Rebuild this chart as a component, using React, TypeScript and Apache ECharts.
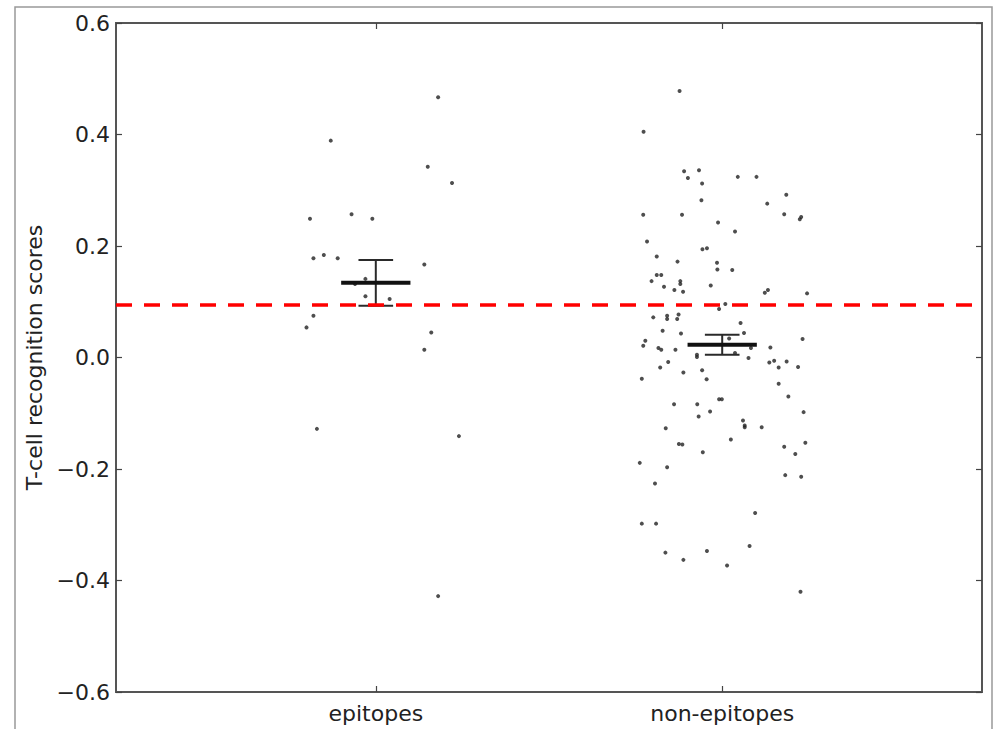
import React, { useEffect, useRef } from "react";
import * as echarts from "echarts";

// Category positions and names
const categories = ["epitopes", "non-epitopes"];
const categoryPos = [1, 2];

// Y-axis ticks
const yTicks = [-0.6, -0.4, -0.2, 0.0, 0.2, 0.4, 0.6];

// Epitopes: jittered x positions and scores
const epitopeX = [1.18, 0.87, 1.15, 1.22, 0.81, 0.93, 0.99, 0.82, 0.85, 0.89, 1.14, 0.97, 0.94, 0.97, 1.04, 0.82, 0.80, 1.16, 1.14, 0.83, 1.24, 1.18];
const epitopeY = [0.467, 0.389, 0.342, 0.313, 0.249, 0.257, 0.249, 0.178, 0.184, 0.178, 0.167, 0.141, 0.132, 0.110, 0.105, 0.075, 0.054, 0.045, 0.014, -0.128, -0.141, -0.428];

// Non-epitopes: jittered x positions and scores
const nonEpitopeX = [
  1.877, 1.773, 1.89, 1.933, 1.901, 1.942, 2.045, 2.099, 2.185, 1.94, 2.13, 1.772, 1.884, 2.179, 2.224, 2.228,
  1.988, 2.037, 1.783, 1.943, 1.956, 1.811, 1.871, 1.985, 1.986, 2.029, 1.811, 1.824, 1.796, 1.879, 1.879, 1.967,
  1.832, 1.862, 1.887, 2.123, 2.132, 2.245, 2.009, 1.991, 1.801, 1.841, 1.841, 1.874, 1.870, 2.053, 1.828, 1.881,
  2.063, 2.020, 2.232, 1.778, 1.772, 1.816, 1.824, 1.865, 2.083, 2.139, 1.927, 1.927, 2.037, 2.076, 1.844, 2.136,
  2.150, 2.186, 1.821, 2.163, 2.219, 1.888, 1.942, 1.768, 1.955, 2.163, 2.191, 1.991, 1.999, 1.861, 1.928, 2.235,
  1.965, 1.932, 1.837, 2.060, 2.065, 2.065, 2.114, 2.025, 1.875, 1.885, 2.240, 2.179, 1.944, 2.211, 1.762, 1.841,
  2.182, 2.228, 1.806, 2.095, 1.768, 1.809, 2.079, 1.836, 1.956, 1.888, 2.014, 2.226,
];
const nonEpitopeY = [
  0.478, 0.405, 0.334, 0.336, 0.322, 0.312, 0.324, 0.324, 0.292, 0.282, 0.276, 0.256, 0.256, 0.257, 0.248, 0.252,
  0.242, 0.226, 0.208, 0.194, 0.196, 0.181, 0.172, 0.170, 0.158, 0.157, 0.148, 0.148, 0.137, 0.137, 0.132, 0.129,
  0.127, 0.121, 0.118, 0.116, 0.121, 0.115, 0.096, 0.087, 0.072, 0.075, 0.069, 0.077, 0.069, 0.062, 0.048, 0.043,
  0.044, 0.034, 0.033, 0.030, 0.021, 0.017, 0.014, 0.014, 0.017, 0.018, 0.005, 0.001, 0.008, -0.001, -0.008, -0.009,
  -0.006, -0.007, -0.018, -0.018, -0.017, -0.027, -0.023, -0.038, -0.039, -0.047, -0.070, -0.075, -0.075, -0.084, -0.084, -0.098,
  -0.097, -0.106, -0.127, -0.113, -0.122, -0.125, -0.125, -0.147, -0.155, -0.156, -0.153, -0.160, -0.170, -0.173, -0.189, -0.197,
  -0.211, -0.214, -0.226, -0.279, -0.298, -0.298, -0.338, -0.350, -0.347, -0.363, -0.373, -0.420,
];

// Group means and error bar bounds
const groupMeans = [0.134, 0.023];
const groupErrLow = [0.093, 0.005];
const groupErrHigh = [0.175, 0.041];

// Threshold (red dashed line)
const threshold = 0.095;

const FONT = "DejaVu Sans";

function fmtY(v: number): string {
  if (Math.abs(v) < 1e-9) return "0.0";
  const s = v.toFixed(1);
  return s.replace("-", "\u2212");
}

export default function App() {
  const ref = useRef<HTMLDivElement>(null);

  useEffect(() => {
    if (!ref.current) return;
    const chart = echarts.init(ref.current, null, { renderer: "svg" });

    const zip = (xs: number[], ys: number[]) => xs.map((x, i) => [x, ys[i]]);
    const barData = categoryPos.map((p, i) => [p, groupMeans[i], groupErrLow[i], groupErrHigh[i]]);

    const tickStyle = { inside: true, length: 6, lineStyle: { color: "#444", width: 1.2 } };

    chart.setOption({
      animation: false,
      backgroundColor: "#fff",
      grid: {
        left: 116,
        right: 14,
        top: 23,
        bottom: 37,
        show: true,
        borderColor: "#555",
        borderWidth: 2,
        backgroundColor: "transparent",
      },
      graphic: [
        {
          type: "rect",
          shape: { x: 15, y: 7, width: 977, height: 760 },
          style: { fill: "none", stroke: "#999", lineWidth: 1.5 },
          silent: true,
        },
      ],
      xAxis: [
        {
          type: "value",
          min: 0.25,
          max: 2.75,
          position: "bottom",
          splitLine: { show: false },
          axisLine: { show: false, onZero: false },
          axisTick: { ...tickStyle, customValues: categoryPos },
          axisLabel: {
            customValues: categoryPos,
            formatter: (v: number) => {
              const i = categoryPos.indexOf(Math.round(v));
              return i >= 0 ? categories[i] : "";
            },
            fontFamily: FONT,
            fontSize: 22,
            color: "#222",
            margin: 10,
          },
        },
        {
          type: "value",
          min: 0.25,
          max: 2.75,
          position: "top",
          splitLine: { show: false },
          axisLine: { show: false, onZero: false },
          axisTick: { ...tickStyle, customValues: categoryPos },
          axisLabel: { show: false },
        },
      ],
      yAxis: [
        {
          type: "value",
          min: -0.6,
          max: 0.6,
          interval: 0.2,
          position: "left",
          splitLine: { show: false },
          axisLine: { show: false, onZero: false },
          axisTick: { ...tickStyle, customValues: yTicks },
          axisLabel: {
            customValues: yTicks,
            formatter: (v: number) => fmtY(v),
            fontFamily: FONT,
            fontSize: 22,
            color: "#222",
            margin: 6,
          },
          name: "T-cell recognition scores",
          nameLocation: "middle",
          nameGap: 69,
          nameTextStyle: { fontFamily: FONT, fontSize: 22, color: "#222" },
        },
        {
          type: "value",
          min: -0.6,
          max: 0.6,
          interval: 0.2,
          position: "right",
          splitLine: { show: false },
          axisLine: { show: false, onZero: false },
          axisTick: { ...tickStyle, customValues: yTicks },
          axisLabel: { show: false },
        },
      ],
      series: [
        {
          type: "scatter",
          name: "epitopes",
          data: zip(epitopeX, epitopeY),
          symbol: "circle",
          symbolSize: 4,
          itemStyle: { color: "#222" },
          z: 3,
        },
        {
          type: "scatter",
          name: "non-epitopes",
          data: zip(nonEpitopeX, nonEpitopeY),
          symbol: "circle",
          symbolSize: 4,
          itemStyle: { color: "#222" },
          z: 3,
          markLine: {
            silent: true,
            symbol: "none",
            precision: 4,
            label: { show: false },
            lineStyle: { color: "#ff0000", width: 3.5, type: [16, 12], opacity: 1 },
            data: [{ yAxis: threshold }],
            z: 5,
          },
        },
        {
          type: "custom",
          name: "mean",
          data: barData,
          z: 4,
          renderItem: (params: any, api: any) => {
            const x = api.value(0);
            const m = api.value(1);
            const lo = api.value(2);
            const hi = api.value(3);
            const pTop = api.coord([x, hi]);
            const pBot = api.coord([x, lo]);
            const pMean = api.coord([x, m]);
            const capL = api.coord([x - 0.05, hi])[0];
            const capR = api.coord([x + 0.05, hi])[0];
            const barL = api.coord([x - 0.1, m])[0];
            const barR = api.coord([x + 0.1, m])[0];
            const stroke = "#2a2a2a";
            return {
              type: "group",
              children: [
                {
                  type: "line",
                  shape: { x1: pTop[0], y1: pTop[1], x2: pBot[0], y2: pBot[1] },
                  style: { stroke, lineWidth: 2 },
                },
                {
                  type: "line",
                  shape: { x1: capL, y1: pTop[1], x2: capR, y2: pTop[1] },
                  style: { stroke, lineWidth: 2 },
                },
                {
                  type: "line",
                  shape: { x1: capL, y1: pBot[1], x2: capR, y2: pBot[1] },
                  style: { stroke, lineWidth: 2 },
                },
                {
                  type: "line",
                  shape: { x1: barL, y1: pMean[1], x2: barR, y2: pMean[1] },
                  style: { stroke: "#111", lineWidth: 4 },
                },
              ],
            };
          },
        },
      ],
    });

    return () => chart.dispose();
  }, []);

  return (
    <div
      ref={ref}
      style={{ position: "absolute", left: 0, top: 0, width: 996, height: 729 }}
    />
  );
}
